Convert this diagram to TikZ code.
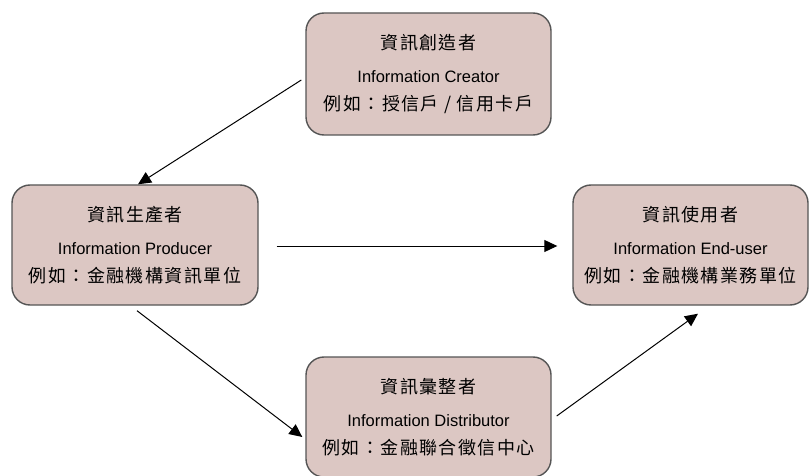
\documentclass[tikz,border=0pt]{standalone}
\usepackage{fontspec}
\setmainfont{Liberation Sans}
\newfontfamily\cjk[LetterSpace=8]{Noto Sans CJK TC}
\usetikzlibrary{arrows.meta}
\definecolor{boxfill}{RGB}{220,199,195}
\definecolor{boxline}{RGB}{85,85,85}
\tikzset{
  rolebox/.style={draw=boxline, line width=1.4pt, fill=boxfill, rounded corners=18pt,
    align=center, inner sep=0pt, minimum height=120pt, font=\fontsize{16.5}{16.5}\selectfont},
  flow/.style={line width=1pt, -{Triangle[length=13pt,width=12pt]}},
}
\newcommand{\rolelines}[3]{{\fontsize{18}{18}\selectfont\cjk #1}\\[17pt]#2\\[11pt]{\fontsize{18}{18}\selectfont\cjk #3}}
\begin{document}
\begin{tikzpicture}[x=1pt,y=-1pt]
\useasboundingbox (0,0) rectangle (809,476);
\node[rolebox, minimum width=245pt, minimum height=122pt] (creator) at (428.5,74)
  {\rolelines{資訊創造者}{Information Creator}{例如：授信戶 / 信用卡戶}};
\node[rolebox, minimum width=246pt] (producer) at (135,245)
  {\rolelines{資訊生產者}{Information Producer}{例如：金融機構資訊單位}};
\node[rolebox, minimum width=235pt] (enduser) at (690.5,245)
  {\rolelines{資訊使用者}{Information End-user}{例如：金融機構業務單位}};
\node[rolebox, minimum width=245pt] (distributor) at (428.5,417)
  {\rolelines{資訊彙整者}{Information Distributor}{例如：金融聯合徵信中心}};
\draw[flow] ([xshift=-4pt,yshift=-6pt]creator.west) -- ([xshift=3pt]producer.north);
\draw[flow] ([xshift=18pt,yshift=-1pt]producer.east) -- ([xshift=-15pt,yshift=-1pt]enduser.west);
\draw[flow] ([xshift=2pt,yshift=-5pt]producer.south) -- ([xshift=-3pt,yshift=-20pt]distributor.west);
\draw[flow] ([xshift=5pt,yshift=1pt]distributor.east) -- ([xshift=7.5pt,yshift=-8pt]enduser.south);
\end{tikzpicture}
\end{document}
